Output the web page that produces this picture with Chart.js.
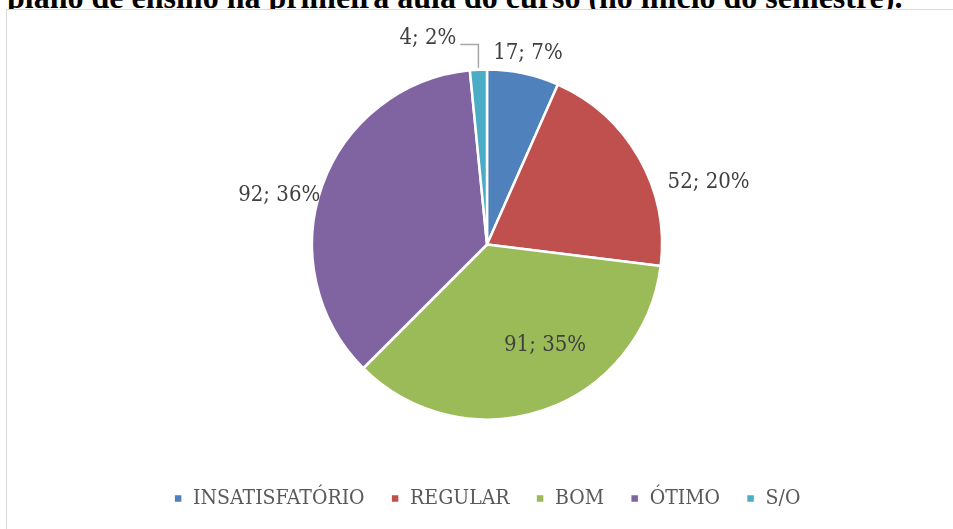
<!DOCTYPE html>
<html>
<head>
<meta charset="utf-8">
<script src="https://cdn.jsdelivr.net/npm/chart.js@4"></script>
<style>
  html, body { margin: 0; padding: 0; background: #fff; overflow: hidden; }
  body { width: 953px; height: 529px; position: relative; }
  .title {
    position: absolute; left: 7px; top: -21px; white-space: nowrap; line-height: 36px;
    font-family: "Liberation Serif", "Times New Roman", serif; font-weight: bold; font-size: 32px; color: #000;
  }
  .frame {
    position: absolute; left: 6px; top: 9px; width: 960px; height: 540px;
    border: 1px solid #d9d9d9; background: #fff;
  }
  #chart { position: absolute; left: 0; top: 0; }
</style>
</head>
<body>
<div class="title">plano de ensino na primeira aula do curso (no início do semestre).</div>
<div class="frame"></div>
<canvas id="chart" width="953" height="529"></canvas>
<script>
const categories = ['INSATISFATÓRIO', 'REGULAR', 'BOM', 'ÓTIMO', 'S/O'];
const counts = [17, 52, 91, 92, 4];
const percents = [7, 20, 35, 36, 2];
const colors = ['#4F81BD', '#C0504D', '#9BBB59', '#8064A2', '#4BACC6'];

// label placement relative to each slice: radius factor, angle shift in degrees
const labelRadius = [1.116, 1.315, 0.666, 1.22, 1.225];
const labelShift = [0.15, 13.9, -10.9, -6.4, -13.2];

const labelFont = '22px "DejaVu Serif Condensed", "DejaVu Serif", serif';

const sliceLabels = {
    id: 'sliceLabels',
    afterDatasetsDraw(chart) {
        const { ctx } = chart;
        const arcs = chart.getDatasetMeta(0).data;
        ctx.save();
        ctx.font = labelFont;
        ctx.fillStyle = '#404040';
        ctx.textAlign = 'center';
        ctx.textBaseline = 'middle';
        arcs.forEach((arc, i) => {
            const { x, y, startAngle, endAngle, outerRadius } = arc.getProps(['x', 'y', 'startAngle', 'endAngle', 'outerRadius'], true);
            const mid = (startAngle + endAngle) / 2;
            const a = mid + labelShift[i] * Math.PI / 180;
            const r = outerRadius * labelRadius[i];
            const lx = x + Math.cos(a) * r;
            const ly = y + Math.sin(a) * r;
            const text = counts[i] + '; ' + percents[i] + '%';
            ctx.fillText(text, lx, ly);

            // leader line for the small slice
            if (i === 4) {
                const w = ctx.measureText(text).width;
                const ex = x + Math.cos(mid) * outerRadius;
                const ey = y + Math.sin(mid) * outerRadius;
                ctx.strokeStyle = '#a6a6a6';
                ctx.lineWidth = 1.5;
                ctx.beginPath();
                ctx.moveTo(lx + w / 2 + 4, ly + 6);
                ctx.lineTo(ex, ly + 6);
                ctx.lineTo(ex, ey - 2);
                ctx.stroke();
            }
        });
        ctx.restore();
    }
};

new Chart(document.getElementById('chart'), {
    type: 'pie',
    data: {
        labels: categories,
        datasets: [{
            data: counts,
            backgroundColor: colors,
            borderColor: '#ffffff',
            borderWidth: 2.5,
            radius: 175
        }]
    },
    options: {
        responsive: false,
        animation: false,
        layout: { padding: { left: 21, right: 0, top: 27, bottom: 10 } },
        plugins: {
            legend: {
                position: 'bottom',
                labels: {
                    boxWidth: 9,
                    boxHeight: 9,
                    padding: 26,
                    color: '#595959',
                    font: { family: '"DejaVu Serif Condensed", "DejaVu Serif", serif', size: 21 }
                }
            },
            tooltip: { enabled: false }
        }
    },
    plugins: [sliceLabels]
});
</script>
</body>
</html>
